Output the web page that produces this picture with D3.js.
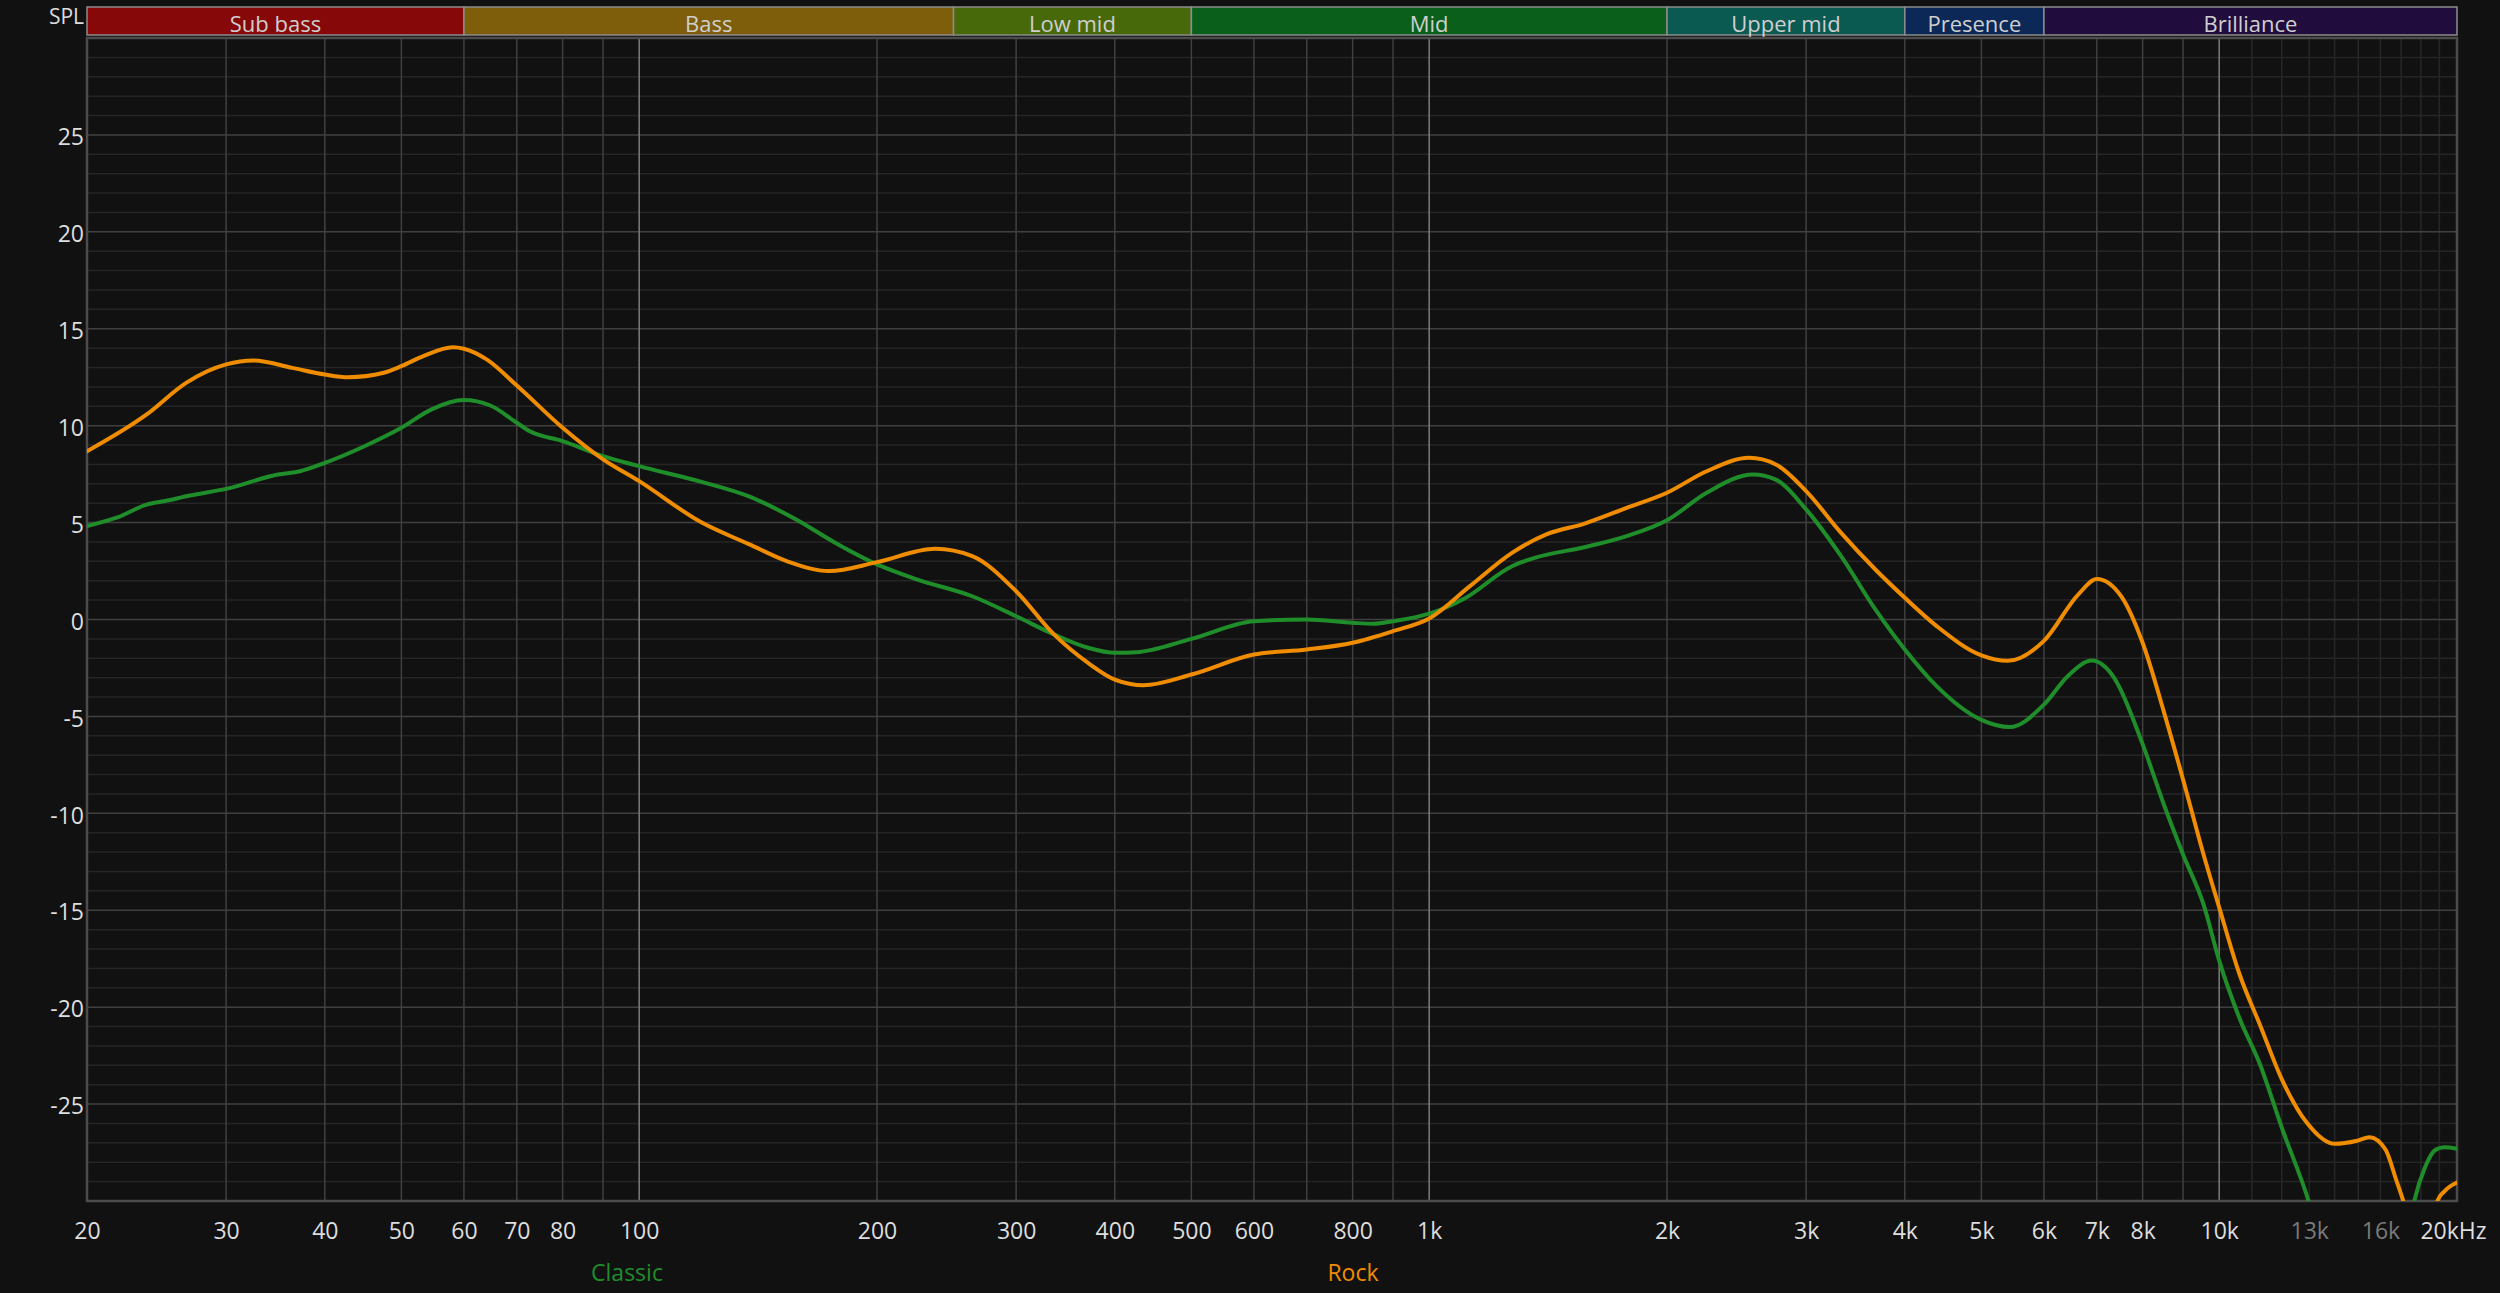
<!DOCTYPE html>
<html>
<head>
<meta charset="utf-8">
<script src="https://cdn.jsdelivr.net/npm/d3@7"></script>
<style>
  html, body { margin: 0; padding: 0; background: #111111; overflow: hidden; }
  svg { display: block; }
  text { font-family: "Open Sans", "Noto Sans", sans-serif; }
</style>
</head>
<body>
<svg id="chart" width="2500" height="1293"></svg>
<script>
// ---------------- data ----------------
const bandNames  = ["Sub bass", "Bass", "Low mid", "Mid", "Upper mid", "Presence", "Brilliance"];
const bandEdges  = [20, 60, 250, 500, 2000, 4000, 6000, 20000];
const bandColors = ["#870808", "#7e5e0a", "#486909", "#0a5f1b", "#0b5a51", "#0b2857", "#210c3e"];

const yTickValues = [25, 20, 15, 10, 5, 0, -5, -10, -15, -20, -25];
const xTickValues = [20, 30, 40, 50, 60, 70, 80, 100, 200, 300, 400, 500, 600, 800, 1000,
                     2000, 3000, 4000, 5000, 6000, 7000, 8000, 10000, 13000, 16000, 20000];
const xTickLabels = ["20", "30", "40", "50", "60", "70", "80", "100", "200", "300", "400", "500", "600", "800", "1k",
                     "2k", "3k", "4k", "5k", "6k", "7k", "8k", "10k", "13k", "16k", "20kHz"];
const dimTickLabels = ["13k", "16k"];

const gridFreqMajor = [30, 40, 50, 60, 70, 80, 90, 200, 300, 400, 500, 600, 700, 800, 900,
                       2000, 3000, 4000, 5000, 6000, 7000, 8000, 9000];
const gridFreqBright = [100, 1000, 10000];
const gridFreqDim = [11000, 12000, 13000, 14000, 15000, 16000, 17000, 18000, 19000];

const seriesNames  = ["Classic", "Rock"];
const seriesColors = ["#1f8e2a", "#f08c00"];

const classicFreq = [20, 21.8, 23.8, 25.1, 27, 30, 34.9, 37.2, 40, 44.9, 50, 54.6, 60, 64.8, 70, 72.6, 80, 90, 100,
  120, 137.5, 158, 177, 200, 225, 264, 300, 335, 370, 400, 426, 500, 600, 700, 800, 850, 900, 1000,
  1110, 1273, 1360, 1573, 1778, 2000, 2245, 2570, 2746, 3000, 3322, 3671, 4000, 4389, 5000, 5430,
  6000, 6435, 6900, 7366, 8000, 8522, 9000, 9554, 10000, 10600, 11280, 12000, 13000, 14000, 15500,
  16800, 17660, 18220, 18800, 19280, 20000];
const classicSPL = [4.82, 5.25, 5.93, 6.11, 6.4, 6.74, 7.48, 7.65, 8.08, 8.94, 9.89, 10.84, 11.32, 11.04, 10.15, 9.72, 9.2, 8.43, 7.91,
  7.1, 6.36, 5.16, 3.96, 2.84, 2.06, 1.2, 0.17, -0.77, -1.46, -1.72, -1.69, -1.0, -0.09, 0.0, -0.17, -0.22, -0.09, 0.3,
  1.1, 2.75, 3.18, 3.73, 4.3, 5.12, 6.54, 7.48, 7.22, 5.68, 3.27, 0.52, -1.55, -3.44, -5.18, -5.55,
  -4.39, -2.91, -2.12, -3.02, -6.43, -9.61, -12.12, -14.7, -17.6, -20.53, -23.02, -26.21, -30.1, -35, -40,
  -36, -30, -28.26, -27.35, -27.23, -27.3];

const rockFreq = [20, 23.8, 26.7, 30, 32.5, 36.4, 40, 42.8, 47.5, 50, 53.3, 58.1, 60, 64.1, 70, 80, 90, 100,
  120, 137.5, 154, 174, 200, 237, 264, 300, 335, 370, 400, 435, 500, 600, 700, 800, 900, 1000,
  1126, 1273, 1407, 1573, 1778, 2000, 2245, 2541, 2746, 3000, 3322, 3671, 4000, 4389, 5000, 5400,
  6000, 6634, 7000, 7521, 8000, 8522, 9000, 9554, 10000, 10600, 11280, 12000, 12920, 14000, 14950,
  15500, 16240, 16760, 17110, 17600, 18100, 18600, 18890, 19280, 20000];
const rockSPL = [8.68, 10.58, 12.21, 13.16, 13.36, 12.98, 12.64, 12.5, 12.73, 13.07, 13.59, 14.05, 13.97, 13.42, 12.07, 9.89, 8.26, 7.14,
  5.0, 3.9, 3.0, 2.5, 2.96, 3.65, 3.27, 1.46, -0.77, -2.24, -3.1, -3.39, -2.84, -1.81, -1.55, -1.2, -0.6, 0.05,
  1.72, 3.44, 4.39, 4.95, 5.76, 6.54, 7.65, 8.34, 8.0, 6.62, 4.47, 2.58, 1.12, -0.34, -1.85, -2.13,
  -1.1, 1.3, 2.09, 1.18, -1.2, -4.84, -8.25, -12.12, -14.85, -18.25, -20.98, -23.71, -25.98, -27.05, -26.89,
  -26.71, -27.35, -28.94, -30.03, -31.8, -32.3, -31.2, -30.0, -29.5, -29.05];

// ---------------- layout ----------------
const svg = d3.select("#chart");
const L = 87, R = 2457, T = 38, B = 1201;
const x = d3.scaleLog().domain([20, 20000]).range([L, R]);
const y = d3.scaleLinear().domain([-30, 30]).range([B, T]);

svg.append("rect").attr("width", 2500).attr("height", 1293).attr("fill", "#111111");

// header bands
const bands = bandNames.map((n, i) => ({ name: n, lo: bandEdges[i], hi: bandEdges[i + 1], color: bandColors[i] }));
const hdr = svg.append("g");
hdr.selectAll("rect").data(bands).join("rect")
  .attr("x", d => x(d.lo)).attr("y", 7)
  .attr("width", d => x(d.hi) - x(d.lo)).attr("height", 28)
  .attr("fill", d => d.color).attr("stroke", "#8c8c8c").attr("stroke-width", 1.5);
hdr.selectAll("text").data(bands).join("text")
  .attr("x", d => (x(d.lo) + x(d.hi)) / 2).attr("y", 32)
  .attr("text-anchor", "middle").attr("fill", "#cfcfcf").attr("font-size", 22)
  .text(d => d.name);

svg.append("text").attr("x", 84).attr("y", 24).attr("text-anchor", "end")
  .attr("fill", "#dddddd").attr("font-size", 21).text("SPL");

// grid
const grid = svg.append("g");
const minorDb = d3.range(-29, 30, 1).filter(v => v % 5 !== 0);
const majorDb = d3.range(-25, 30, 5);
grid.selectAll(".hmin").data(minorDb).join("line")
  .attr("x1", L).attr("x2", R).attr("y1", d => y(d)).attr("y2", d => y(d))
  .attr("stroke", "#252525").attr("stroke-width", 1.5);
grid.selectAll(".vdim").data(gridFreqDim).join("line")
  .attr("x1", d => x(d)).attr("x2", d => x(d)).attr("y1", T).attr("y2", B)
  .attr("stroke", "#272727").attr("stroke-width", 1.5);
grid.selectAll(".hmaj").data(majorDb).join("line")
  .attr("x1", L).attr("x2", R).attr("y1", d => y(d)).attr("y2", d => y(d))
  .attr("stroke", "#404040").attr("stroke-width", 1.5);
grid.selectAll(".vmaj").data(gridFreqMajor).join("line")
  .attr("x1", d => x(d)).attr("x2", d => x(d)).attr("y1", T).attr("y2", B)
  .attr("stroke", "#404040").attr("stroke-width", 1.5);
grid.selectAll(".vbr").data(gridFreqBright).join("line")
  .attr("x1", d => x(d)).attr("x2", d => x(d)).attr("y1", T).attr("y2", B)
  .attr("stroke", "#7c7c7c").attr("stroke-width", 1.5);

// frame
svg.append("rect").attr("x", L).attr("y", T).attr("width", R - L).attr("height", B - T)
  .attr("fill", "none").attr("stroke", "#4c4c4c").attr("stroke-width", 2.5);

// axes labels via d3 axes
const xAxis = d3.axisBottom(x).tickValues(xTickValues)
  .tickFormat((d, i) => xTickLabels[i]).tickSize(0).tickPadding(0);
const gx = svg.append("g").attr("transform", `translate(0, ${B + 22})`).call(xAxis);
gx.select(".domain").remove();
gx.selectAll("text").attr("font-size", 23).attr("font-family", "'Open Sans', 'Noto Sans', sans-serif")
  .attr("dy", "0.71em")
  .attr("fill", d => dimTickLabels.includes(xTickLabels[xTickValues.indexOf(d)]) ? "#7a7a7a" : "#dedede");
gx.selectAll(".tick").filter(d => d === 20000).select("text").attr("dx", -4);

const yAxis = d3.axisLeft(y).tickValues(yTickValues).tickFormat(d => String(d)).tickSize(0).tickPadding(3);
const gy = svg.append("g").attr("transform", `translate(${L}, 0)`).call(yAxis);
gy.select(".domain").remove();
gy.selectAll("text").attr("font-size", 23).attr("font-family", "'Open Sans', 'Noto Sans', sans-serif")
  .attr("fill", "#dedede").attr("dy", "0.42em");

// curves
svg.append("defs").append("clipPath").attr("id", "plotclip")
  .append("rect").attr("x", L).attr("y", T).attr("width", R - L).attr("height", B - T);

const series = [
  { name: seriesNames[0], color: seriesColors[0], pts: classicFreq.map((f, i) => [f, classicSPL[i]]) },
  { name: seriesNames[1], color: seriesColors[1], pts: rockFreq.map((f, i) => [f, rockSPL[i]]) }
];
const line = d3.line().x(d => x(d[0])).y(d => y(d[1])).curve(d3.curveMonotoneX);
svg.append("g").attr("clip-path", "url(#plotclip)")
  .selectAll("path").data(series).join("path")
  .attr("d", d => line(d.pts)).attr("fill", "none")
  .attr("stroke", d => d.color).attr("stroke-width", 4)
  .attr("stroke-linejoin", "round").attr("stroke-linecap", "round");

// legend
const legendX = [627, 1353];
svg.append("g").selectAll("text").data(series).join("text")
  .attr("x", (d, i) => legendX[i]).attr("y", 1281)
  .attr("text-anchor", "middle").attr("font-size", 23)
  .attr("fill", d => d.color).text(d => d.name);
</script>
</body>
</html>
